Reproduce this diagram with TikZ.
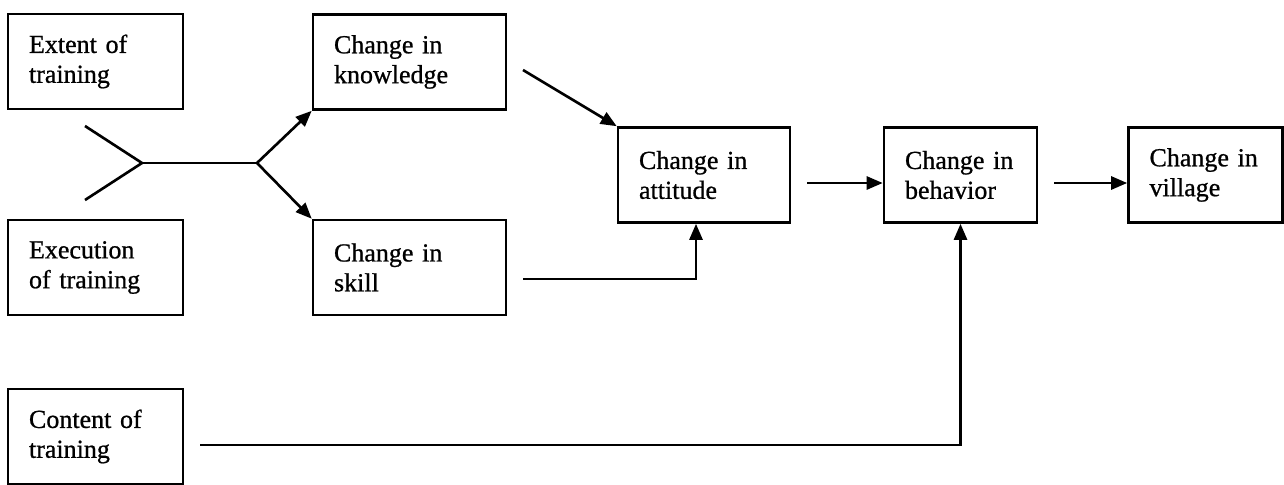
\documentclass[tikz,border=0pt]{standalone}
\usepackage{fontspec}
\setmainfont[FakeBold=0.8]{Liberation Serif}
\usetikzlibrary{arrows.meta}

\begin{document}
\begin{tikzpicture}[x=0.02cm, y=-0.02cm,
  box/.style={draw, line width=1.5pt, align=left, inner xsep=0.42cm,
    minimum height=1.9cm, font=\fontsize{14.8}{17}\selectfont},
  link/.style={line width=1.5pt},
  arr/.style={link, -{Triangle[length=0.32cm, width=0.26cm]}}]
\useasboundingbox (0,0) rectangle (1284,484);
\node[box, text width=2.66cm] (extent) at (95.5,61.5) {Extent of\\training};
\node[box, text width=2.66cm] (execution) at (95.5,267.5) {Execution\\of training};
\node[box, text width=2.66cm] (content) at (95.5,436.5) {Content of\\training};
\node[box, text width=3.02cm] (knowledge) at (409.5,62) {Change in\\knowledge};
\node[box, text width=3.02cm] (skill) at (409.5,267.5) {Change in\\skill};
\node[box, text width=2.60cm] (attitude) at (704,175) {Change in\\attitude};
\node[box, text width=2.22cm] (behavior) at (960.5,175) {Change in\\behavior};
\node[box, text width=2.24cm] (village) at (1205.5,175) {Change in\\village};
\coordinate (upper) at (85,126);
\coordinate (lower) at (85,200);
\coordinate (join) at (142,163);
\coordinate (split) at (257,163);
\coordinate (k-out) at (523,70);
\coordinate (s-out) at (523,279);
\coordinate (a-out) at (807,183);
\coordinate (b-out) at (1054,183);
\coordinate (c-out) at (200,445);
\draw[link] (upper) -- (join) -- (lower);
\draw[link] (join) -- (split);
\draw[arr] (split) -- (knowledge.south west);
\draw[arr] (split) -- (skill.north west);
\draw[arr] (k-out) -- (attitude.north west);
\draw[arr] (s-out) -| ([xshift=-0.16cm]attitude.south);
\draw[arr] (a-out) -- (a-out -| behavior.west);
\draw[arr] (b-out) -- (b-out -| village.west);
\draw[arr] (c-out) -| (behavior.south);
\end{tikzpicture}
\end{document}
